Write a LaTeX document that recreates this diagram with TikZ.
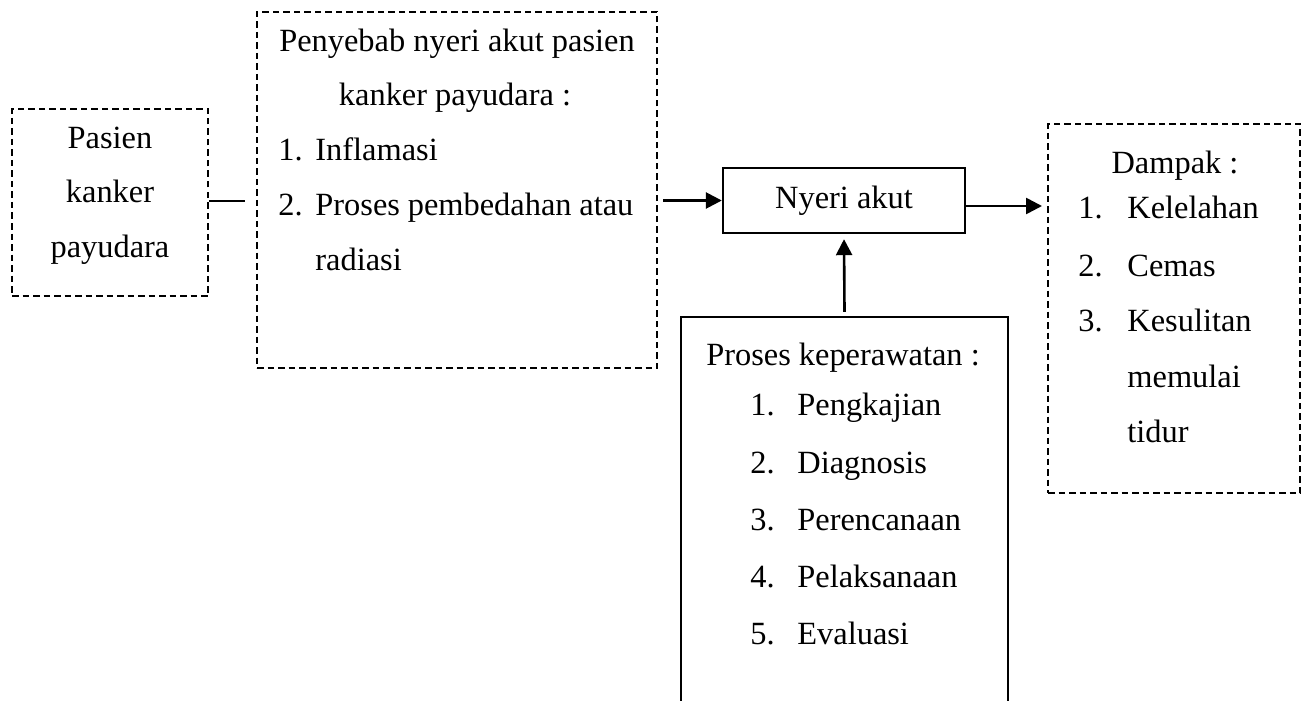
\documentclass[tikz,border=0pt]{standalone}
\usepackage{fontspec}
\setmainfont{Liberation Serif}
\usetikzlibrary{arrows.meta,fit}
\begin{document}
\begin{tikzpicture}[x=0.5pt,y=-0.5pt,
  font=\fontsize{16.2}{19}\selectfont,
  dbox/.style={draw, line width=1.1pt, dash pattern=on 3.25pt off 2pt, inner sep=0pt},
  sbox/.style={draw, line width=1.2pt, inner sep=0pt},
  tc/.style={inner sep=0pt, anchor=base},
  tl/.style={inner sep=0pt, anchor=base west},
  arr/.style={line width=1.3pt, -{Triangle[length=8pt,width=8pt]}},
  ln/.style={line width=1.1pt}]
\useasboundingbox (0,0) rectangle (1309,700);
\clip (0,0) rectangle (1309,700);
% boxes
\node[dbox, fit={(12,109) (208,296)}] (A) {};
\node[dbox, fit={(257,12) (657,368)}] (B) {};
\node[sbox, fit={(723,168) (965,233)}] (N) {};
\node[sbox, fit={(681,317) (1008,710)}] (P) {};
\node[dbox, fit={(1048,124) (1300,493)}] (D) {};
% box A text
\node[tc] (a1) at (110,149) {Pasien};
\node[tc] (a2) at (110,203) {kanker};
\node[tc] (a3) at (110,257) {payudara};
% box B text
\node[tc] (b1) at (457,52) {Penyebab nyeri akut pasien};
\node[tc] (b2) at (455,106) {kanker payudara :};
\node[tl] (b3n) at (278,161) {1.};
\node[tl] (b3) at (315,161) {Inflamasi};
\node[tl] (b4n) at (278,215) {2.};
\node[tl] (b4) at (315,215) {\makebox[159pt][s]{Proses\hfill pembedahan\hfill atau}};
\node[tl] (b5) at (315,270) {radiasi};
% Nyeri
\node[tc] (n1) at (844,208) {Nyeri akut};
% Proses
\node[tc] (p0) at (843,365) {Proses keperawatan :};
\node[tl] (p1n) at (750,415) {1.};
\node[tl] (p1) at (797,415) {Pengkajian};
\node[tl] (p2n) at (750,473) {2.};
\node[tl] (p2) at (797,473) {Diagnosis};
\node[tl] (p3n) at (750,530) {3.};
\node[tl] (p3) at (797,530) {Perencanaan};
\node[tl] (p4n) at (750,587) {4.};
\node[tl] (p4) at (797,587) {Pelaksanaan};
\node[tl] (p5n) at (750,644) {5.};
\node[tl] (p5) at (797,644) {Evaluasi};
% Dampak
\node[tc] (d0) at (1175,174) {Dampak :};
\node[tl] (d1n) at (1078,219) {1.};
\node[tl] (d1) at (1127,219) {Kelelahan};
\node[tl] (d2n) at (1078,276) {2.};
\node[tl] (d2) at (1127,276) {Cemas};
\node[tl] (d3n) at (1078,331) {3.};
\node[tl] (d3) at (1127,331) {Kesulitan};
\node[tl] (d4) at (1127,387) {memulai};
\node[tl] (d5) at (1127,442) {tidur};
% connectors
\coordinate (ab) at (245,201);
\draw[ln] (A.east |- ab) -- (ab);
\draw[arr] ([xshift=2.5pt]B.east |- N.west) -- (N.west);
\coordinate (nd) at (1042,206);
\draw[arr] (N.east |- nd) -- (nd);
\draw[arr] ([yshift=2pt]P.north) -- ([yshift=-2.5pt]N.south);
\end{tikzpicture}
\end{document}
